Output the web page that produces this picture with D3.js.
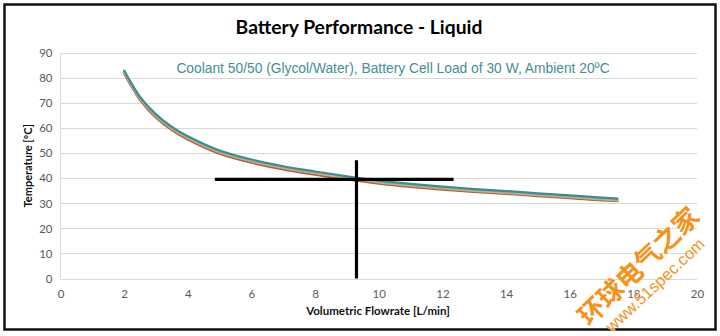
<!DOCTYPE html>
<html>
<head>
<meta charset="utf-8">
<script src="https://cdn.jsdelivr.net/npm/d3@7"></script>
<style>
  html, body { margin: 0; padding: 0; background: #fff; }
  svg { display: block; }
</style>
</head>
<body>
<svg id="chart" width="720" height="336"></svg>
<script>
// ---- data ----
const flowrate = [2, 2.5, 3, 3.5, 4, 5, 6, 7, 8, 9, 10, 11, 12, 13, 14, 15, 16, 17, 17.5];
const tempTeal = [83.0, 72.5, 65.5, 60.5, 56.8, 51.1, 47.5, 44.8, 42.7, 40.8, 39.1, 37.8, 36.7, 35.7, 34.9, 34.0, 33.2, 32.3, 31.9];
const tempBlue = [82.7, 72.2, 65.2, 60.2, 56.5, 50.8, 47.2, 44.5, 42.4, 40.5, 38.8, 37.5, 36.4, 35.4, 34.6, 33.7, 32.9, 32.0, 31.6];
const tempTan  = [82.3, 71.8, 64.8, 59.8, 56.1, 50.4, 46.8, 44.1, 42.0, 40.1, 38.4, 37.1, 36.0, 35.0, 34.2, 33.3, 32.5, 31.6, 31.2];
const tempRed  = [81.8, 71.2, 64.2, 59.2, 55.5, 49.8, 46.2, 43.5, 41.4, 39.5, 37.9, 36.6, 35.5, 34.6, 33.8, 32.9, 32.1, 31.2, 30.9];
const xTicks = [0, 2, 4, 6, 8, 10, 12, 14, 16, 18, 20];
const yTicks = [0, 10, 20, 30, 40, 50, 60, 70, 80, 90];
const crossX = 9.3;      // vertical marker flowrate
const crossY = 39.6;     // horizontal marker temperature
const hLineFrom = 4.85, hLineTo = 12.35;
const vLineTop = 47.2;
const titleText = "Battery Performance - Liquid";
const noteText = "Coolant 50/50 (Glycol/Water), Battery Cell Load of 30 W, Ambient 20ºC";
const xLabel = "Volumetric Flowrate [L/min]";
const yLabel = "Temperature [ºC]";

const seriesList = [
  {name: "red",  values: tempRed,  color: "#b75a3e"},
  {name: "tan",  values: tempTan,  color: "#c8b46c"},
  {name: "blue", values: tempBlue, color: "#8fb0c4"},
  {name: "teal", values: tempTeal, color: "#3f8c8c"}
];

// ---- drawing ----
const svg = d3.select("#chart");
const x = d3.scaleLinear().domain([0, 20]).range([60.5, 697]);
const y = d3.scaleLinear().domain([0, 90]).range([278.5, 53]);

// outer frame
svg.append("rect").attr("x", 4.5).attr("y", 4.5).attr("width", 711).attr("height", 325)
  .attr("fill", "#fff").attr("stroke", "#111").attr("stroke-width", 2.5);

// gridlines
svg.append("g").selectAll("line").data(yTicks).join("line")
  .attr("x1", x(0)).attr("x2", x(20))
  .attr("y1", d => Math.round(y(d)) + 0.5).attr("y2", d => Math.round(y(d)) + 0.5)
  .attr("stroke", "#d9d9d9").attr("stroke-width", 1);
svg.append("line").attr("x1", x(0)).attr("x2", x(0)).attr("y1", y(90)).attr("y2", y(0))
  .attr("stroke", "#d9d9d9");

// axes labels via d3 axes
const yAxis = d3.axisLeft(y).tickValues(yTicks).tickSize(0).tickPadding(8);
const gy = svg.append("g").attr("transform", `translate(${x(0)},0)`).call(yAxis);
gy.select(".domain").remove();
gy.selectAll("text").attr("font-family", "Lato, 'Open Sans', sans-serif").attr("font-size", 11.5).attr("fill", "#595959");

const xAxis = d3.axisBottom(x).tickValues(xTicks).tickSize(0).tickPadding(11);
const gx = svg.append("g").attr("transform", `translate(0,${y(0)})`).call(xAxis);
gx.select(".domain").remove();
gx.selectAll("text").attr("font-family", "Lato, 'Open Sans', sans-serif").attr("font-size", 11.5).attr("fill", "#595959");

// series lines
const line = d3.line().x((d, i) => x(flowrate[i])).y(d => y(d)).curve(d3.curveCatmullRom.alpha(0.5));
svg.append("g").selectAll("path").data(seriesList).join("path")
  .attr("d", s => line(s.values))
  .attr("fill", "none").attr("stroke", s => s.color).attr("stroke-width", 2.2)
  .attr("stroke-linecap", "round");

// crosshair markers
svg.append("line").attr("x1", x(hLineFrom)).attr("x2", x(hLineTo))
  .attr("y1", y(crossY)).attr("y2", y(crossY)).attr("stroke", "#000").attr("stroke-width", 3.2);
svg.append("line").attr("x1", x(crossX)).attr("x2", x(crossX))
  .attr("y1", y(vLineTop)).attr("y2", y(0)).attr("stroke", "#000").attr("stroke-width", 3.2);

// title
svg.append("text").attr("x", 359).attr("y", 34).attr("text-anchor", "middle")
  .attr("font-family", "Lato, 'Open Sans', sans-serif").attr("font-weight", "bold")
  .attr("font-size", 19.3).attr("fill", "#000").text(titleText);

// note
svg.append("text").attr("x", 393).attr("y", 73).attr("text-anchor", "middle")
  .attr("font-family", "'Liberation Sans', Arial, sans-serif")
  .attr("font-size", 13.8).attr("fill", "#3f8f93").text(noteText);

// axis titles
svg.append("text").attr("x", 378).attr("y", 315).attr("text-anchor", "middle")
  .attr("font-family", "Lato, 'Open Sans', sans-serif").attr("font-weight", "bold")
  .attr("font-size", 11.5).attr("fill", "#111").text(xLabel);
svg.append("text").attr("transform", `translate(32,${(y(0) + y(90)) / 2}) rotate(-90)`)
  .attr("text-anchor", "middle")
  .attr("font-family", "Lato, 'Open Sans', sans-serif").attr("font-weight", "bold")
  .attr("font-size", 11).attr("fill", "#111").text(yLabel);

// watermark
const wm = svg.append("g").attr("font-family", "'Noto Sans CJK SC', sans-serif")
  .attr("fill", "#f2931c").attr("stroke", "#fff").attr("stroke-width", 0.6)
  .attr("paint-order", "stroke");
wm.append("text").attr("transform", "translate(589,327) rotate(-44)")
  .attr("font-size", 26).attr("font-weight", "bold").text("环球电气之家");
wm.append("text").attr("transform", "translate(612,333) rotate(-43)")
  .attr("font-family", "'Liberation Sans', Arial, sans-serif")
  .attr("font-size", 16.5).text("www.51spec.com");
</script>
</body>
</html>
